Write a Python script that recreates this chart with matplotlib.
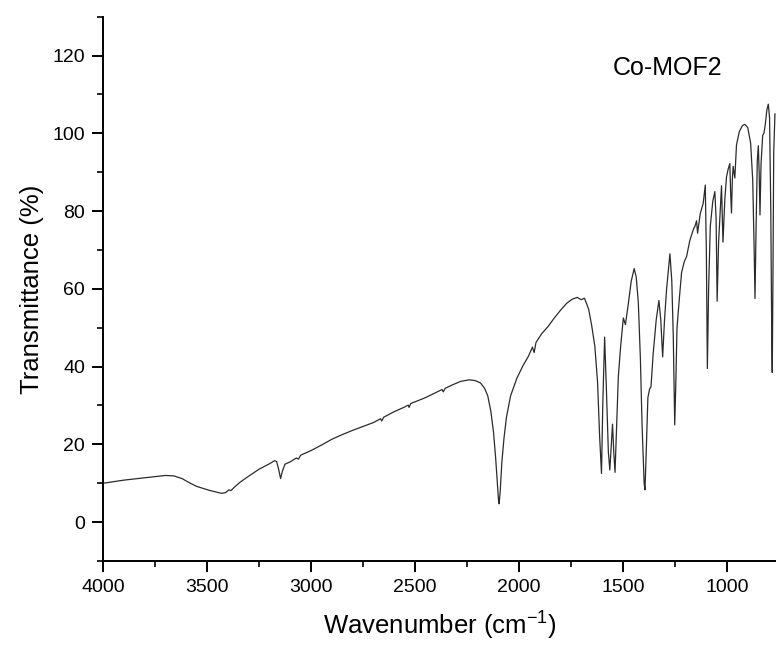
"""FTIR spectrum of Co-MOF2 (transmittance vs wavenumber)."""

import matplotlib
matplotlib.use("Agg")
import matplotlib.pyplot as plt
from matplotlib.ticker import MultipleLocator

plt.rcParams["font.family"] = ["Liberation Sans", "DejaVu Sans"]
plt.rcParams["mathtext.fontset"] = "custom"
plt.rcParams["mathtext.rm"] = "Liberation Sans"
plt.rcParams["mathtext.it"] = "Liberation Sans:italic"

# wavenumber (cm^-1)
wavenumber = [
    4000, 3950, 3900, 3850, 3800, 3750, 3700, 3660, 3620, 3580,
    3550, 3520, 3490, 3460, 3430, 3410, 3395, 3385, 3370, 3340,
    3300, 3250, 3200, 3175, 3165, 3155, 3146, 3138, 3125, 3100,
    3070, 3060, 3050, 3000, 2950, 2900, 2850, 2800, 2750, 2700,
    2665, 2660, 2650, 2600, 2550, 2532, 2528, 2520, 2450, 2400,
    2370, 2364, 2355, 2320, 2280, 2240, 2210, 2185, 2165, 2150,
    2135, 2122, 2112, 2104, 2098, 2095, 2090, 2082, 2072, 2060,
    2040, 2010, 1980, 1955, 1935, 1927, 1918, 1890, 1860, 1830,
    1800, 1770, 1745, 1720, 1700, 1685, 1665, 1650, 1635, 1622,
    1612, 1603, 1597, 1588, 1580, 1570, 1563, 1556, 1550, 1544,
    1538, 1530, 1522, 1511, 1498, 1488, 1475, 1460, 1446, 1436,
    1426, 1416, 1408, 1398, 1394, 1388, 1380, 1372, 1365, 1355,
    1340, 1327, 1318, 1309, 1300, 1290, 1274, 1265, 1258, 1251,
    1246, 1240, 1228, 1218, 1205, 1194, 1178, 1160, 1154, 1146,
    1141, 1128, 1114, 1104, 1099, 1094, 1088, 1080, 1068, 1058,
    1052, 1047, 1040, 1026, 1019, 1010, 1002, 994, 986, 982,
    978, 974, 970, 962, 954, 940, 925, 914, 900, 886,
    876, 869, 865, 860, 854, 849, 845, 841, 836, 828,
    822, 815, 808, 801, 795, 789, 784, 782, 779, 775,
    769,
]

# transmittance (%)
transmittance = [
    10.0, 10.4, 10.8, 11.1, 11.4, 11.7, 12.0, 11.9, 11.2, 10.0,
    9.2, 8.7, 8.2, 7.8, 7.4, 7.6, 8.3, 8.1, 8.9, 10.3,
    11.8, 13.6, 15.0, 15.8, 15.6, 13.5, 11.2, 13.0, 14.9, 15.5,
    16.5, 16.2, 17.2, 18.4, 19.8, 21.3, 22.5, 23.6, 24.6, 25.6,
    26.6, 26.0, 27.0, 28.4, 29.6, 30.1, 29.5, 30.5, 32.0, 33.3,
    34.1, 33.5, 34.4, 35.3, 36.2, 36.6, 36.4, 35.8, 34.4, 32.5,
    28.5, 23.0, 16.5, 10.0, 5.5, 4.7, 8.0, 15.5, 21.5, 27.0,
    32.5, 37.0, 40.3, 42.6, 45.0, 43.6, 46.2, 48.5, 50.3, 52.5,
    54.5, 56.3, 57.3, 57.8, 57.2, 57.6, 54.8, 50.5, 45.2, 36.0,
    22.0, 12.5, 30.0, 47.6, 35.0, 18.0, 13.4, 20.0, 25.2, 18.0,
    12.8, 25.0, 37.5, 45.2, 52.5, 50.8, 55.8, 62.0, 65.2, 63.0,
    56.5, 42.0, 25.0, 10.0, 8.3, 18.0, 32.0, 34.2, 34.8, 43.0,
    52.0, 57.0, 52.0, 42.5, 52.0, 60.0, 69.0, 62.0, 48.0, 25.0,
    35.0, 50.0, 58.0, 64.2, 67.0, 68.3, 72.5, 75.5, 76.0, 77.5,
    74.3, 79.4, 82.0, 86.7, 70.0, 39.5, 60.0, 76.0, 82.5, 85.0,
    78.0, 56.8, 72.0, 86.5, 72.0, 83.0, 88.8, 90.8, 92.2, 84.5,
    79.5, 88.0, 91.5, 88.5, 97.0, 100.5, 102.0, 102.3, 101.5, 97.5,
    88.0, 70.0, 57.5, 75.0, 93.0, 96.8, 90.0, 79.0, 92.0, 99.5,
    100.0, 102.5, 106.0, 107.5, 104.0, 80.0, 45.0, 38.5, 60.0, 95.0,
    105.0,
]

sample_label = "Co-MOF2"


def main():
    fig = plt.figure(figsize=(7.76, 6.5), dpi=100)
    ax = fig.add_axes([0.1327, 0.1369, 0.8673, 0.8375])

    ax.plot(wavenumber, transmittance, color="#2b2b2b", linewidth=0.9)

    ax.set_xlim(4000, 764)
    ax.set_ylim(-10, 130)

    ax.xaxis.set_major_locator(MultipleLocator(500))
    ax.xaxis.set_minor_locator(MultipleLocator(250))
    ax.yaxis.set_major_locator(MultipleLocator(20))
    ax.yaxis.set_minor_locator(MultipleLocator(10))

    ax.spines["top"].set_visible(False)
    ax.spines["right"].set_visible(False)
    ax.spines["left"].set_linewidth(1.4)
    ax.spines["bottom"].set_linewidth(1.4)

    ax.tick_params(which="major", direction="out", length=8, width=1.4,
                   labelsize=14, pad=5)
    ax.tick_params(which="minor", direction="out", length=4.5, width=1.2)

    ax.set_xlabel(r"Wavenumber (cm$^{-1}$)", fontsize=18.5, labelpad=10)
    ax.set_ylabel("Transmittance (%)", fontsize=18.5, labelpad=6)

    ax.text(1548, 116.8, sample_label, fontsize=18, ha="left", va="center")

    fig.savefig("out.png", dpi=100)
    plt.close(fig)


if __name__ == "__main__":
    main()
